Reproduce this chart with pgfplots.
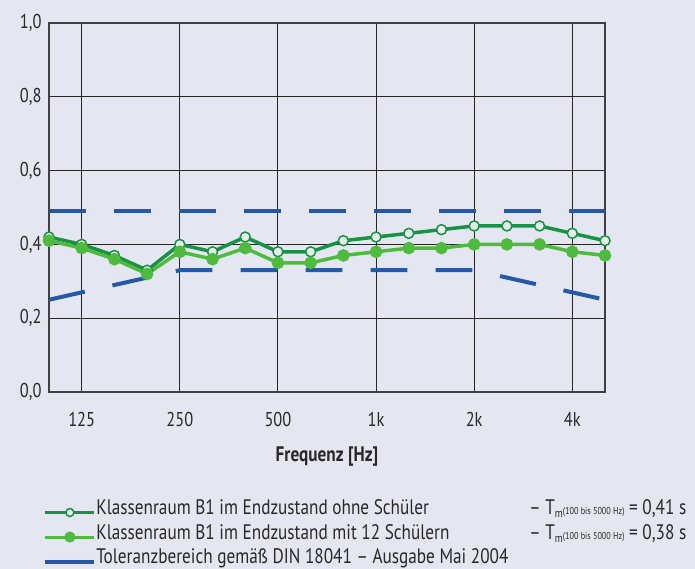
\documentclass[border=0pt]{standalone}
\usepackage{fontspec}
\setmainfont{PT Sans}[FakeStretch=0.82]
\usepackage{pgfplots}
\pgfplotsset{compat=1.18}

\definecolor{bg}{RGB}{228,231,241}
\definecolor{dgreen}{RGB}{24,146,68}
\definecolor{lgreen}{RGB}{78,186,62}
\definecolor{tolblue}{RGB}{38,88,168}
\definecolor{ofill}{RGB}{230,238,234}
\definecolor{txt}{RGB}{40,40,40}

\newcommand\tm[1]{-- T\raisebox{-3pt}{\fontsize{12}{14}\selectfont m}{\fontsize{10}{12}\selectfont(100 bis 5000 Hz)} = #1 s}

\begin{document}
\begin{tikzpicture}
\useasboundingbox (0,0) rectangle (695pt,569pt);
\fill[bg] (0,0) rectangle (695pt,569pt);
\begin{axis}[
  at={(49pt,177pt)}, anchor=south west,
  width=556pt, height=369pt, scale only axis,
  xmin=0, xmax=17, ymin=0, ymax=1,
  xtick={1,4,7,10,13,16},
  xticklabels={125,250,500,1k,2k,4k},
  ytick={0,0.2,0.4,0.6,0.8,1},
  yticklabels={{0,0},{0,2},{0,4},{0,6},{0,8},{1,0}},
  major tick length=0pt,
  grid=major,
  major grid style={line width=1.1pt, black!85},
  axis line style={line width=1.1pt, black!75},
  tick label style={font=\fontsize{20}{22}\selectfont, text=txt},
  xticklabel style={anchor=base, yshift=-35pt},
  yticklabel style={xshift=-4pt},
  xlabel={Frequenz [Hz]},
  xlabel style={font=\fontsize{21}{24}\selectfont\bfseries, text=txt,
    at={(axis description cs:0.5,0)}, anchor=center, yshift=-65pt},
  legend style={at={(axis description cs:-0.011,-0.288)}, anchor=north west,
    draw=none, fill=none, font=\fontsize{21}{23}\selectfont, text=txt,
    inner sep=0pt, outer sep=0pt,
    row sep=0pt, nodes={text height=16pt, text depth=7.5pt, inner sep=0.5pt}},
  legend cell align=left,
  legend image code/.code={\draw[mark repeat=2,mark phase=2,#1] plot coordinates {(0pt,-2pt) (25pt,-2pt) (49pt,-2pt)};},
]
% Toleranzbereich
\addplot[tolblue, line width=4pt, dash pattern=on 36.7pt off 28.3pt, forget plot]
  coordinates {(0,0.49) (17,0.49)};
\addplot[tolblue, line width=4pt, dash pattern=on 36.7pt off 28.3pt, forget plot]
  coordinates {(0,0.25) (1,0.27) (2,0.29) (3,0.31) (4,0.33) (13,0.33) (14,0.31) (15,0.29) (16,0.27) (17,0.25)};
% ohne Schueler
\addplot[dgreen, line width=3.5pt, mark=*, mark size=5pt,
  mark options={fill=ofill, draw=dgreen, line width=1.5pt},
  legend image post style={line width=3pt, mark size=4pt}]
  coordinates {(0,0.42) (1,0.40) (2,0.37) (3,0.33) (4,0.40) (5,0.38) (6,0.42) (7,0.38) (8,0.38)
    (9,0.41) (10,0.42) (11,0.43) (12,0.44) (13,0.45) (14,0.45) (15,0.45) (16,0.43) (17,0.41)};
% mit 12 Schuelern
\addplot[lgreen, line width=3.5pt, mark=*, mark size=4.5pt,
  mark options={fill=lgreen, draw=lgreen},
  legend image post style={line width=3pt, mark size=4pt}]
  coordinates {(0,0.41) (1,0.39) (2,0.36) (3,0.32) (4,0.38) (5,0.36) (6,0.39) (7,0.35) (8,0.35)
    (9,0.37) (10,0.38) (11,0.39) (12,0.39) (13,0.40) (14,0.40) (15,0.40) (16,0.38) (17,0.37)};
\addlegendimage{tolblue, line width=4pt}
\addlegendentry{\makebox[433pt][l]{Klassenraum B1 im Endzustand ohne Schüler}\tm{0,41}}
\addlegendentry{\makebox[433pt][l]{Klassenraum B1 im Endzustand mit 12 Schülern}\tm{0,38}}
\addlegendentry{Toleranzbereich gemäß DIN 18041 -- Ausgabe Mai 2004}
\end{axis}
\end{tikzpicture}
\end{document}
